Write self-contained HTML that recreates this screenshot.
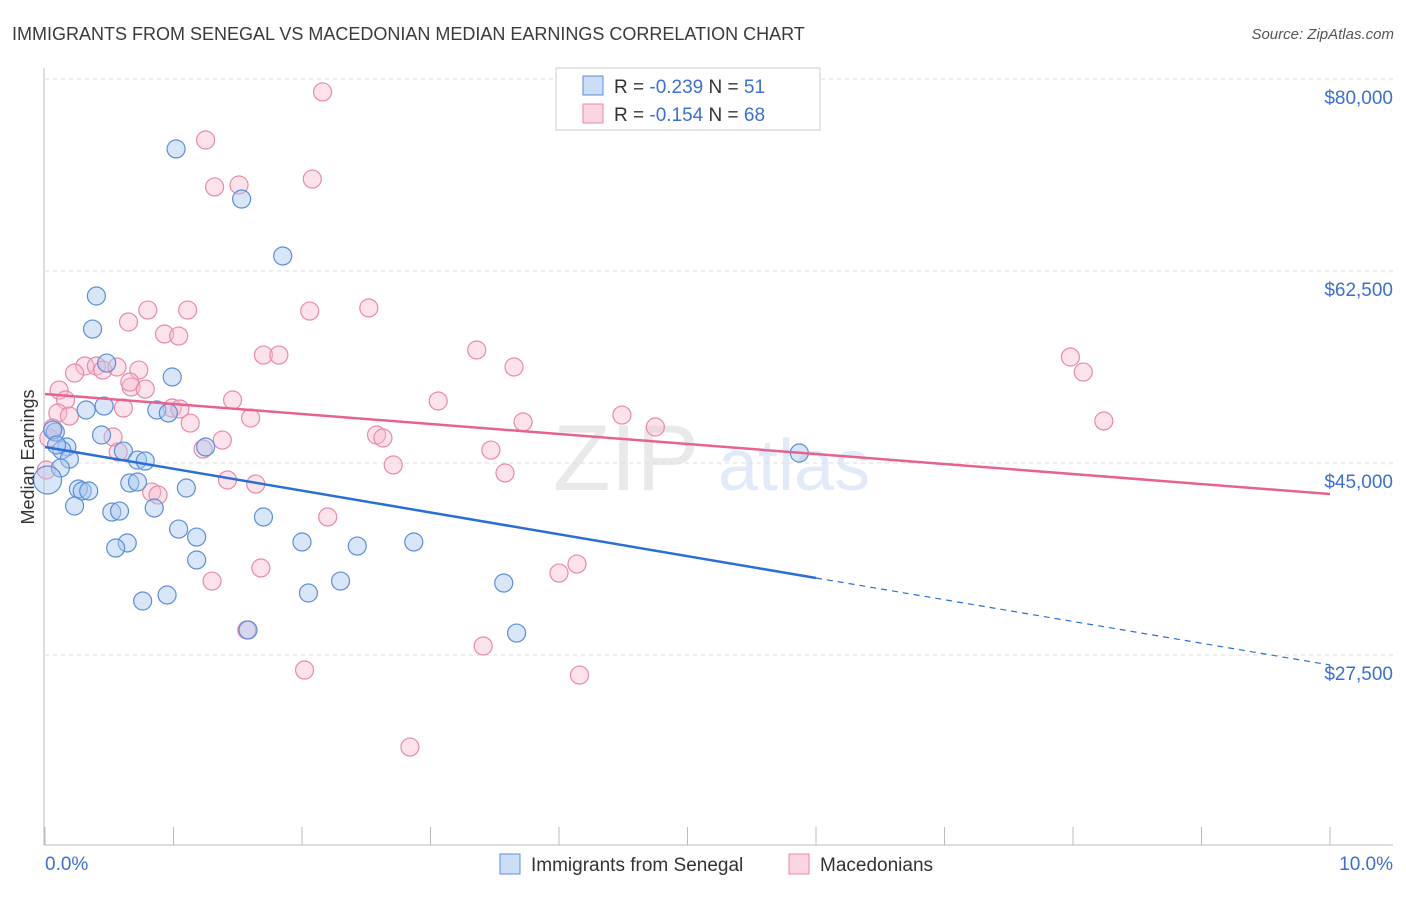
<!DOCTYPE html>
<html><head><meta charset="utf-8"><style>
body{margin:0;background:#fff;font-family:"Liberation Sans",sans-serif}
svg text{font-family:"Liberation Sans",sans-serif}
</style></head><body>
<svg id="chart" width="1406" height="892" xmlns="http://www.w3.org/2000/svg">
<text x="12" y="40" font-size="18" fill="#3a3a3a">IMMIGRANTS FROM SENEGAL VS MACEDONIAN MEDIAN EARNINGS CORRELATION CHART</text>
<text x="1394" y="39" font-size="15" fill="#555" font-style="italic" text-anchor="end">Source: ZipAtlas.com</text>
<g opacity="0.18">
<text x="553" y="490" font-family="Liberation Serif" font-size="94" fill="#888">ZIP</text>
<text x="718" y="490" font-size="72" fill="#5b8fd9">atlas</text>
</g>
<g id="grid"></g>
<g id="axes"></g>
<g id="trends"></g>
<g id="pts"></g>
<text transform="translate(34,457) rotate(-90)" font-size="18" fill="#333" text-anchor="middle">Median Earnings</text>
<g>
<rect x="556" y="68" width="264" height="62" fill="#fff" stroke="#ccc"/>
<rect x="583" y="76" width="20" height="19" fill="rgba(168,200,240,0.6)" stroke="#5b8fd9"/>
<rect x="583" y="104" width="20" height="19" fill="rgba(248,184,204,0.6)" stroke="#e88aa8"/>
<text x="614" y="93" font-size="19" fill="#333">R = <tspan fill="#3b6fd4">-0.239</tspan>   N = <tspan fill="#3b6fd4"> 51</tspan></text>
<text x="614" y="121" font-size="19" fill="#333">R = <tspan fill="#3b6fd4">-0.154</tspan>   N = <tspan fill="#3b6fd4">68</tspan></text>
</g>
<g>
<rect x="500" y="854" width="20" height="20" fill="rgba(168,200,240,0.6)" stroke="#5b8fd9"/>
<text x="531" y="871" font-size="19" fill="#333">Immigrants from Senegal</text>
<rect x="789" y="854" width="20" height="20" fill="rgba(248,184,204,0.6)" stroke="#e88aa8"/>
<text x="820" y="871" font-size="19" fill="#333">Macedonians</text>
</g>
</svg>
<script>
const yTicks=[27500,45000,62500,80000];
const yTickLabels=["$27,500","$45,000","$62,500","$80,000"];
const xTickLabels=["0.0%","10.0%"];
const blueX=[1.02,1.53,1.85,0.40,0.37,0.48,0.99,0.46,0.32,0.87,0.96,0.44,0.08,0.17,0.13,0.19,0.61,0.72,0.78,0.12,0.02,0.26,0.29,0.34,0.66,0.72,1.10,0.23,0.52,0.58,0.85,1.04,1.18,1.70,0.64,0.55,2.00,2.43,2.87,1.18,2.30,2.05,0.95,0.76,3.57,3.67,1.58,5.87,1.25,0.06,0.09];
const blueY=[73.62,69.06,63.87,60.22,57.21,54.11,52.84,50.19,49.83,49.83,49.56,47.55,47.82,46.46,46.18,45.36,46.09,45.27,45.18,44.54,43.45,42.63,42.45,42.45,43.18,43.27,42.72,41.08,40.53,40.62,40.90,38.98,38.25,40.08,37.71,37.25,37.80,37.43,37.80,36.16,34.24,33.15,32.97,32.42,34.06,29.50,29.78,45.91,46.46,48.01,46.64];
const pinkX=[2.16,1.25,1.32,1.51,2.08,0.80,1.11,2.06,2.52,0.65,0.93,1.04,1.70,1.82,3.36,3.65,7.98,8.08,0.31,0.23,0.40,0.45,0.56,0.73,0.67,0.78,0.11,0.16,0.10,0.19,0.61,0.99,1.05,1.46,3.06,8.24,1.60,1.13,3.72,4.49,4.75,0.53,1.38,2.58,2.63,0.03,3.47,0.57,1.23,1.42,1.64,2.71,3.58,0.83,0.88,2.20,1.68,1.30,4.14,4.00,1.57,2.02,3.41,4.16,2.84,0.06,0.01,0.66];
const pinkY=[78.82,74.44,70.16,70.34,70.88,58.94,58.94,58.85,59.13,57.85,56.76,56.57,54.84,54.84,55.30,53.75,54.66,53.29,53.84,53.20,53.84,53.47,53.75,53.47,51.93,51.74,51.65,50.74,49.56,49.28,50.01,50.01,49.92,50.74,50.65,48.83,49.10,48.64,48.74,49.37,48.28,47.37,47.09,47.55,47.28,47.28,46.18,46.00,46.27,43.45,43.08,44.82,44.09,42.35,42.08,40.08,35.43,34.24,35.79,34.97,29.78,26.13,28.32,25.67,19.11,48.19,44.36,52.38];
const blueTrendX=[0,6,10];
const blueTrendY=[46.46,34.52,26.59];
const pinkTrendX=[0,10];
const pinkTrendY=[51.29,42.17];
const NS="http://www.w3.org/2000/svg";
const xs=v=>45+v*128.5;
const ys=k=>79+(80-k)*192/17.5;
function mk(tag,attrs,parent){const e=document.createElementNS(NS,tag);for(const k in attrs)e.setAttribute(k,attrs[k]);parent.appendChild(e);return e;}
const grid=document.getElementById('grid'),axes=document.getElementById('axes'),tr=document.getElementById('trends'),pts=document.getElementById('pts');
yTicks.forEach((t,i)=>{
 const y=ys(t/1000);
 const l=mk('line',{x1:45,x2:1393,y1:y,y2:y,stroke:'#ddd','stroke-dasharray':'4,4'},grid);
 
 
 const tx=mk('text',{x:1393,y:y+25,'font-size':19,fill:'#3b6fd4','text-anchor':'end'},axes);
 tx.textContent=yTickLabels[i];
 
 
});
const ax=mk('line',{x1:44,x2:44,y1:68,y2:845,stroke:'#bbb'},axes);


const bx=mk('line',{x1:44,x2:1393,y1:845,y2:845,stroke:'#bbb'},axes);


for(let i=0;i<=10;i++){const t=mk('line',{x1:xs(i),x2:xs(i),y1:827,y2:845,stroke:'#bbb'},axes);
 
 }
const xl0=mk('text',{x:45,y:870,'font-size':19,fill:'#3b6fd4'},axes);xl0.textContent=xTickLabels[0];


const xl1=mk('text',{x:1393,y:870,'font-size':19,fill:'#3b6fd4','text-anchor':'end'},axes);xl1.textContent=xTickLabels[1];


function dot(x,y,cls,r){const c=mk('circle',{cx:xs(x),cy:ys(y),r:r,fill:cls==='b'?'rgba(168,200,240,0.45)':'rgba(248,184,204,0.4)',stroke:cls==='b'?'#5b8fd9':'#e88aa8','stroke-width':1.2},pts);return c;}
pinkX.forEach((x,i)=>{const c=dot(x,pinkY[i],'p',9);
 
 });
blueX.forEach((x,i)=>{const c=dot(x,blueY[i],'b',i===20?14:9);
 
 });
const pl=mk('line',{x1:xs(pinkTrendX[0]),y1:ys(pinkTrendY[0]),x2:xs(pinkTrendX[1]),y2:ys(pinkTrendY[1]),stroke:'#e8628e','stroke-width':2.5},tr);


const bl=mk('line',{x1:xs(blueTrendX[0]),y1:ys(blueTrendY[0]),x2:xs(blueTrendX[1]),y2:ys(blueTrendY[1]),stroke:'#2a6fd6','stroke-width':2.5},tr);


const bd=mk('line',{x1:xs(blueTrendX[1]),y1:ys(blueTrendY[1]),x2:xs(blueTrendX[2]),y2:ys(blueTrendY[2]),stroke:'#2a6fd6','stroke-width':1.2,'stroke-dasharray':'6,5'},tr);


document.getElementById('chart').appendChild(tr);
</script>
</body></html>
